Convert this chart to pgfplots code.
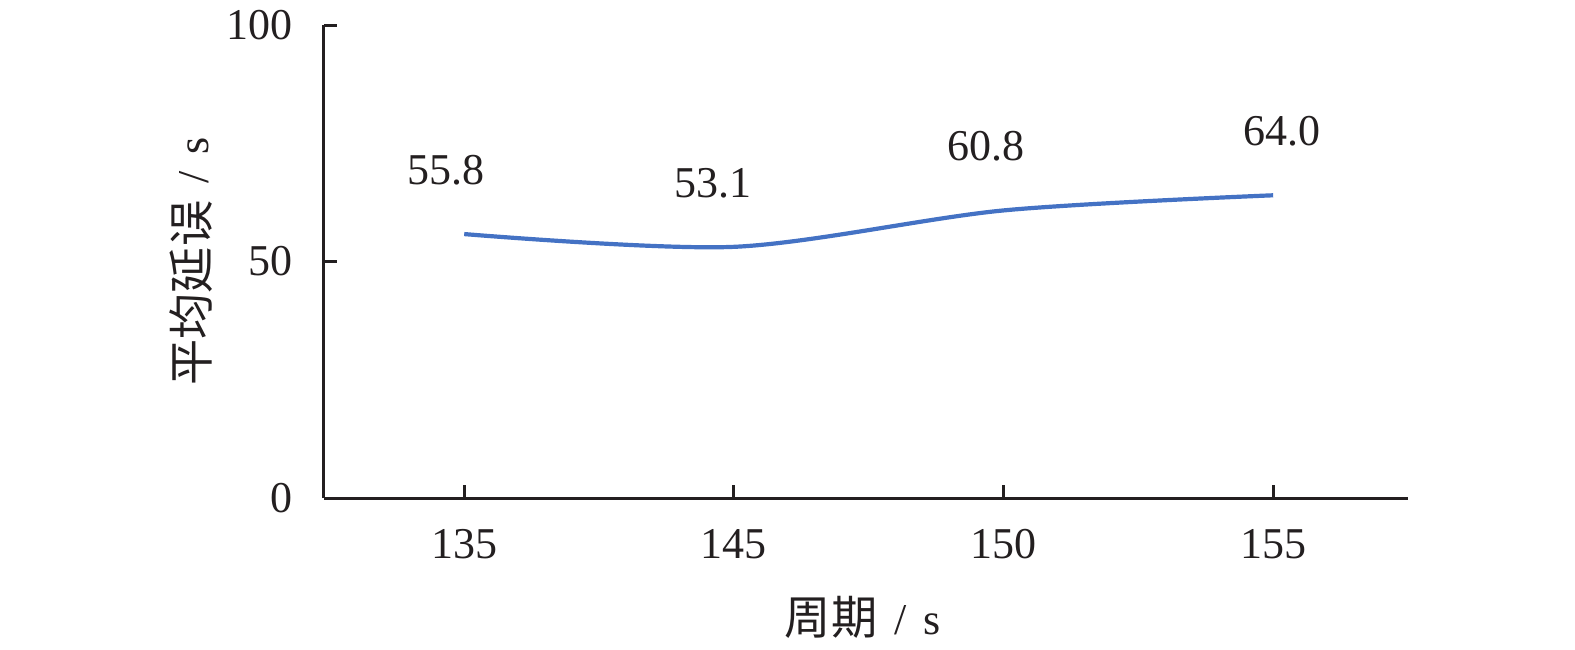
\documentclass[border=0pt]{standalone}
\usepackage{pgfplots}
\pgfplotsset{compat=1.18}
\usepackage{fontspec}
\setmainfont{Liberation Serif}
\newfontfamily\cjk[Scale=1.05]{Noto Sans CJK SC}
\definecolor{lineblue}{HTML}{4472C4}
\definecolor{axgray}{HTML}{231F20}
\newcommand\bigf{\fontsize{22}{26.4}\selectfont}
\begin{document}
\begin{tikzpicture}
\path[use as bounding box] (-162pt,-75.5pt) rectangle (625.5pt,249pt);
\begin{axis}[at={(0,0)}, anchor=south west, scale only axis, width=542pt, height=236.5pt,
xmin=-0.52, xmax=3.5, ymin=0, ymax=100,
axis lines*=left, axis line style={axgray, line width=1.5pt},
xtick={0,1,2,3}, xticklabels={135,145,150,155},
ytick={0,50,100},
tick align=inside, major tick length=6.5pt, tick style={axgray, line width=1.5pt},
x tick label style={yshift=-12pt}, y tick label style={xshift=-12pt},
tick label style={font=\bigf, text=axgray}, /pgf/number format/assume math mode=true,
xlabel={{\cjk 周期}\hspace{3pt} /\hspace{3pt} s}, ylabel={{\cjk 平均延误}\hspace{3pt} /\hspace{3pt} s},
every axis x label/.style={at={(axis description cs:0.497,-0.252)}, anchor=center, font=\bigf, text=axgray},
every axis y label/.style={at={(axis description cs:-0.123,0.5)}, anchor=center, rotate=90, font=\bigf, text=axgray},
clip=false,
]
\addplot[lineblue, line width=2.1pt, smooth, tension=0.5] table {
x y
0 55.8
1 53.1
2 60.8
3 64.0
};
\addplot[draw=none, mark=none, nodes near coords={\pgfplotspointmeta}, point meta=explicit symbolic,
visualization depends on={\thisrow{dx}\as\dx},
every node near coord/.style={anchor=center, xshift=\dx pt, yshift=32pt, font=\bigf, text=axgray}]
table[meta=lab] {
x y lab dx
0 55.8 55.8 -9
1 53.1 53.1 -10.5
2 60.8 60.8 -9
3 64.0 64.0 4.5
};
\end{axis}
\end{tikzpicture}
\end{document}
